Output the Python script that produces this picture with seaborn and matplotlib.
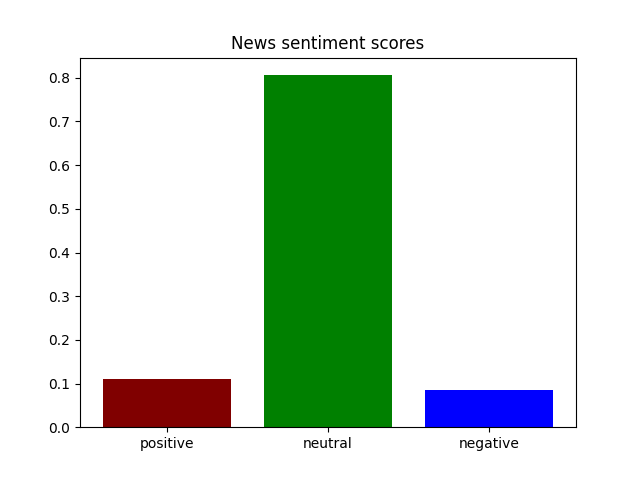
import matplotlib
matplotlib.use('Agg')
import matplotlib.pyplot as plt
import seaborn as sns
import pandas as pd

categories = ['positive', 'neutral', 'negative']
scores = [0.110, 0.806, 0.085]
colors = ['maroon', 'green', 'blue']

data = pd.DataFrame({'sentiment': categories, 'score': scores})

fig, ax = plt.subplots(figsize=(6.4, 4.8), dpi=100)
sns.barplot(x='sentiment', y='score', hue='sentiment', data=data,
            palette=colors, saturation=1, legend=False, width=0.8, ax=ax)

ax.set_xlim(-0.54, 2.54)
ax.set_ylim(0, max(scores) * 1.05)
ax.set_title('News sentiment scores')
ax.set_xlabel('')
ax.set_ylabel('')

plt.savefig('out.png', dpi=100)
